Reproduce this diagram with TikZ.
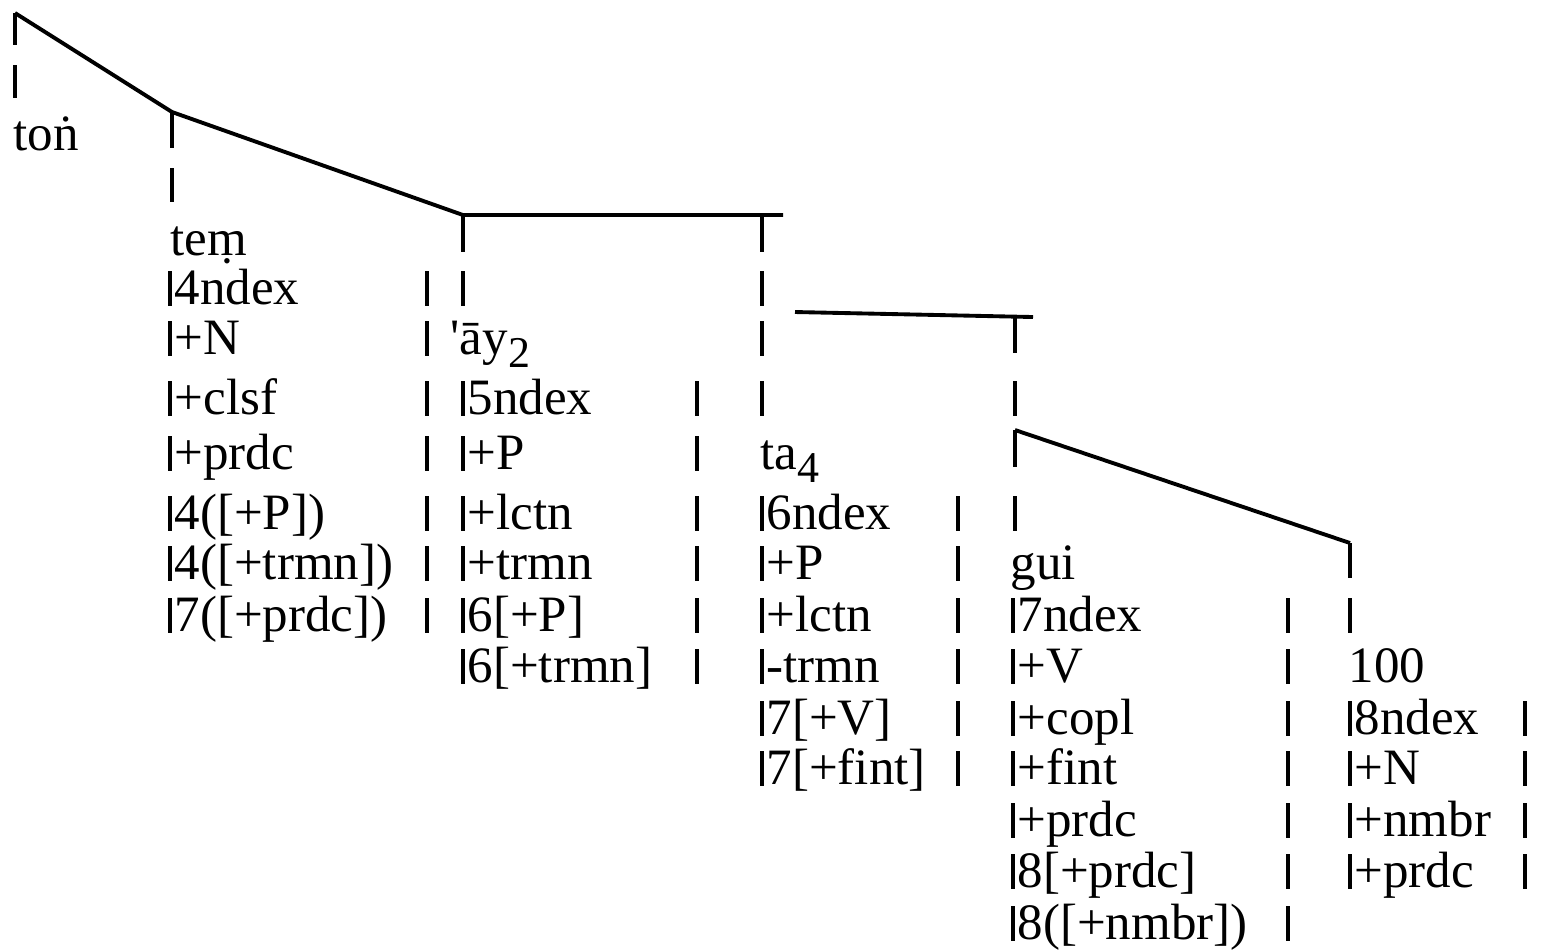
\documentclass[tikz,border=0pt]{standalone}
\usepackage{fontspec}
\setmainfont{Liberation Serif}
\usetikzlibrary{positioning}

\begin{document}
\begin{tikzpicture}[x=0.01cm,y=-0.01cm,
  word/.style={anchor=base west,inner sep=0pt,font=\fontsize{14.5}{16}\selectfont},
  branch/.style={line width=1.1pt},
  vbar/.style={line width=1.1pt}]

  \useasboundingbox (0,0) rectangle (1546,950);

  % Branch points
  \coordinate (top) at (15,13);
  \coordinate (k1) at (172,112);
  \coordinate (k2) at (463,215);
  \coordinate (k2e) at (783,215);
  \coordinate (k3s) at (795,312);
  \coordinate (k3e) at (1033,317);
  \coordinate (k4) at (1015,430);
  \coordinate (k5) at (1350,543);

  % Branches
  \draw[branch] (top) -- (k1) -- (k2) -- (k2e);
  \draw[branch] (k3s) -- (k3e);
  \draw[branch] (k4) -- (k5);

  % Stems under the branch points
  \draw[vbar] (top) -- ++(0,32);
  \draw[vbar] (k1) -- ++(0,36);
  \draw[vbar] (k2) -- ++(0,37);
  \draw[vbar] (762,215) -- ++(0,37);
  \draw[vbar] (1015,317) -- ++(0,36);
  \draw[vbar] (k4) -- ++(0,37);
  \draw[vbar] (k5) -- ++(0,35);

  % Broken stems
  \draw[vbar] (15,65) -- (15,98);
  \draw[vbar] (172,168) -- (172,202);
  \draw[vbar] (463,271) -- (463,306);
  \foreach \b in {304,354,414}
    \draw[vbar] (762,\b-33) -- (762,\b+2);
  \foreach \b in {414,529}
    \draw[vbar] (1015,\b-33) -- (1015,\b+2);
  \draw[vbar] (1350,598) -- (1350,633);

  % Head words
  \node[word] (ton) at (13,150) {toṅ};
  \node[word] (tem) at (170,255) {teṃ};
  \node[word] (ay) at (450,354) {\textquotesingle āy\raisebox{-0.26em}{\fontsize{12.5}{13}\selectfont 2}};
  \node[word] (ta) at (760,469) {ta\raisebox{-0.26em}{\fontsize{12.5}{13}\selectfont 4}};
  \node[word] (gui) at (1010,579) {gui};
  \node[word] (hund) at (1348,682) {100};

  % Feature bars
  \foreach \b in {304,354,414,469,529,579,631}{
    \draw[vbar] (170,\b-33) -- (170,\b+2);
    \draw[vbar] (427,\b-33) -- (427,\b+2);
  }
  \foreach \b in {414,469,529,579,631,682}{
    \draw[vbar] (463,\b-33) -- (463,\b+2);
    \draw[vbar] (697,\b-33) -- (697,\b+2);
  }
  \foreach \b in {529,579,631,682,734,784}{
    \draw[vbar] (762,\b-33) -- (762,\b+2);
    \draw[vbar] (958,\b-33) -- (958,\b+2);
  }
  \foreach \b in {631,682,734,784,836,887,939}{
    \draw[vbar] (1013,\b-33) -- (1013,\b+2);
    \draw[vbar] (1288,\b-33) -- (1288,\b+2);
  }
  \foreach \b in {734,784,836,887}{
    \draw[vbar] (1350,\b-33) -- (1350,\b+2);
    \draw[vbar] (1525,\b-33) -- (1525,\b+2);
  }

  % Features of tem
  \node[word] (tem1) at (174,304) {4ndex};
  \node[word] (tem2) at (174,354) {+N};
  \node[word] (tem3) at (174,414) {+clsf};
  \node[word] (tem4) at (174,469) {+prdc};
  \node[word] (tem5) at (174,529) {4([+P])};
  \node[word] (tem6) at (174,579) {4([+trmn])};
  \node[word] (tem7) at (174,631) {7([+prdc])};

  % Features of 'ay
  \node[word] (ay1) at (467,414) {5ndex};
  \node[word] (ay2) at (467,469) {+P};
  \node[word] (ay3) at (467,529) {+lctn};
  \node[word] (ay4) at (467,579) {+trmn};
  \node[word] (ay5) at (467,631) {6[+P]};
  \node[word] (ay6) at (467,682) {6[+trmn]};

  % Features of ta
  \node[word] (ta1) at (766,529) {6ndex};
  \node[word] (ta2) at (766,579) {+P};
  \node[word] (ta3) at (766,631) {+lctn};
  \node[word] (ta4) at (766,682) {-trmn};
  \node[word] (ta5) at (766,734) {7[+V]};
  \node[word] (ta6) at (766,784) {7[+fint]};

  % Features of gui
  \node[word] (gui1) at (1017,631) {7ndex};
  \node[word] (gui2) at (1017,682) {+V};
  \node[word] (gui3) at (1017,734) {+copl};
  \node[word] (gui4) at (1017,784) {+fint};
  \node[word] (gui5) at (1017,836) {+prdc};
  \node[word] (gui6) at (1017,887) {8[+prdc]};
  \node[word] (gui7) at (1017,939) {8([+nmbr])};

  % Features of 100
  \node[word] (hund1) at (1354,734) {8ndex};
  \node[word] (hund2) at (1354,784) {+N};
  \node[word] (hund3) at (1354,836) {+nmbr};
  \node[word] (hund4) at (1354,887) {+prdc};

\end{tikzpicture}
\end{document}
